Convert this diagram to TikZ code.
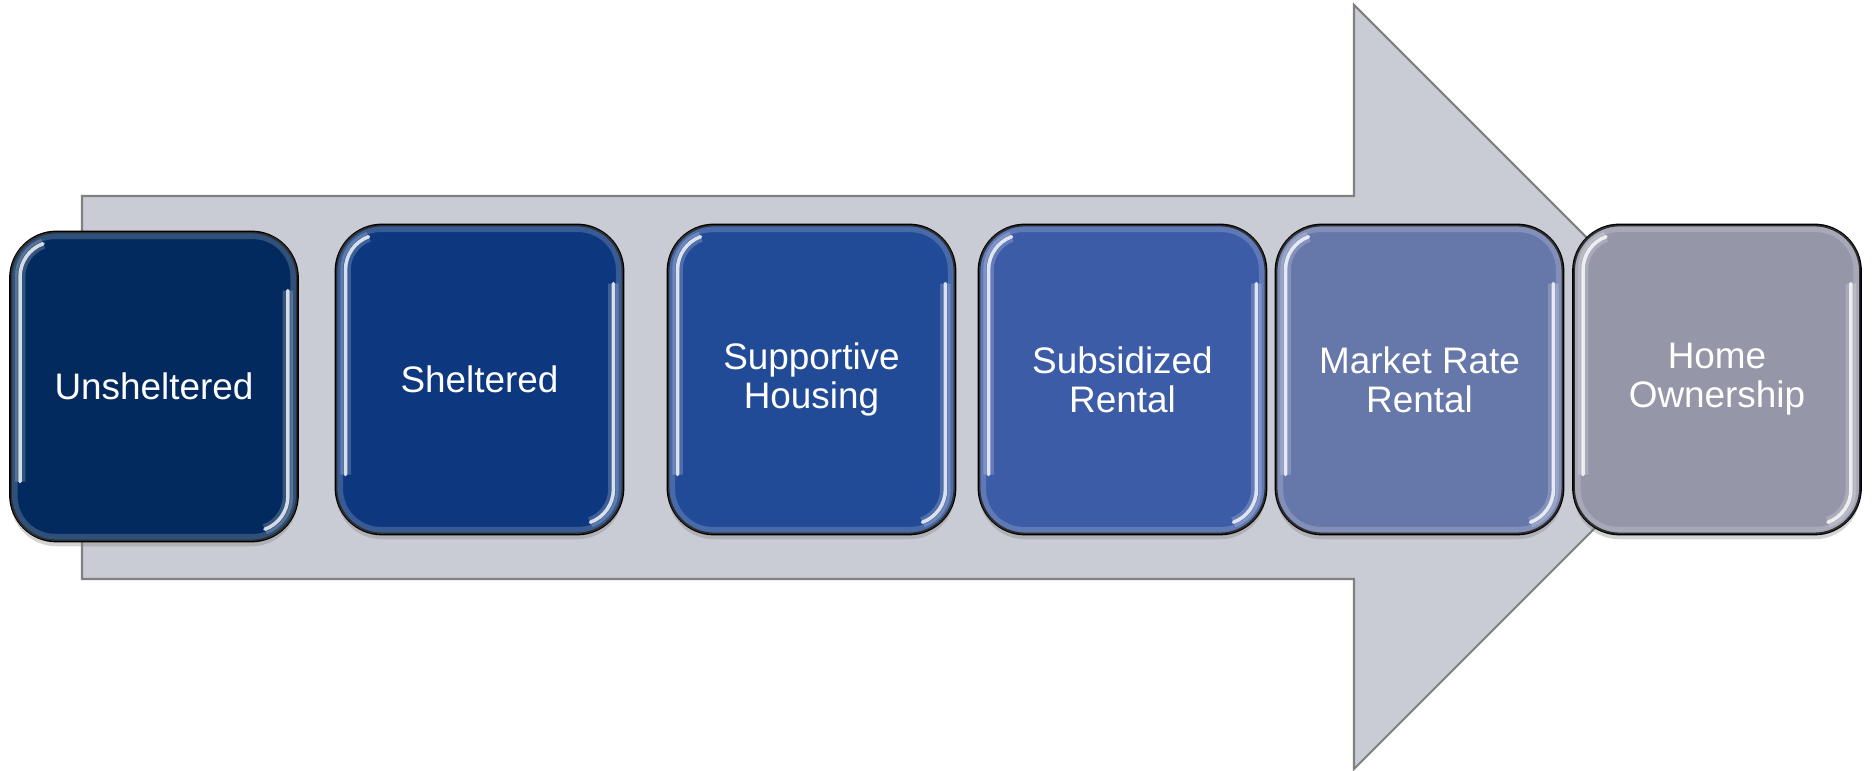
\documentclass[tikz,border=0pt]{standalone}
\usepackage{fontspec}
\setmainfont{Liberation Sans}
\usetikzlibrary{shadows}

\definecolor{arrowgray}{HTML}{C9CCD4}
\definecolor{stageA}{HTML}{022A5E}
\definecolor{stageB}{HTML}{0D3880}
\definecolor{stageC}{HTML}{214A97}
\definecolor{stageD}{HTML}{3C5CA8}
\definecolor{stageE}{HTML}{6677AA}
\definecolor{stageF}{HTML}{9597A9}

\begin{document}
\begin{tikzpicture}[
    stagebox/.style={draw=black, line width=0.8pt, rounded corners=0.46cm,
      minimum width=2.87cm, minimum height=3.09cm, text=white, align=center,
      font=\fontsize{10.5}{11.1}\selectfont,
      drop shadow={shadow xshift=0pt, shadow yshift=-1.5pt, opacity=0.35}},
    glossband/.style={white, line width=3pt, opacity=0.2},
    gloss/.style={white, line width=1pt, line cap=round, opacity=0.8},
    rim/.style={white, line width=2pt, opacity=0.18, rounded corners=0.41cm}
  ]
  \useasboundingbox (0,0) rectangle (18.72,7.71);

  % big arrow behind the stages
  \filldraw[fill=arrowgray, draw=gray, line width=0.6pt]
    (0.82,1.92) -- (0.82,5.75) -- (13.54,5.75) -- (13.54,7.66)
    -- (17.36,3.84) -- (13.54,0.02) -- (13.54,1.92) -- cycle;

  % stages, left to right
  \foreach \name/\x/\y/\col/\txt in {
      unsheltered/1.54/3.845/stageA/Unsheltered,
      sheltered/4.795/3.915/stageB/Sheltered,
      supportive/8.115/3.915/stageC/{Supportive\\Housing},
      subsidized/11.225/3.915/stageD/{Subsidized\\Rental},
      market/14.195/3.915/stageE/{Market Rate\\Rental},
      ownership/17.17/3.915/stageF/{Home\\Ownership}}
  {
    \node[stagebox, fill=\col] (\name) at (\x,\y) {\txt};
    \draw[rim] ([shift={(0.05,0.05)}]\name.south west)
      rectangle ([shift={(-0.05,-0.05)}]\name.north east);
    % glossy streaks on both sides
    \foreach \s in {glossband, gloss} {
      \draw[\s] ([shift={(0.34,-0.131)}]\name.north west)
        arc[start angle=110, end angle=180, radius=0.35cm] -- ++(0,-2.05);
      \draw[\s] ([shift={(-0.11,-0.6)}]\name.north east)
        -- ([shift={(-0.11,0.46)}]\name.south east)
        arc[start angle=0, end angle=-70, radius=0.35cm];
    }
  }
\end{tikzpicture}
\end{document}
